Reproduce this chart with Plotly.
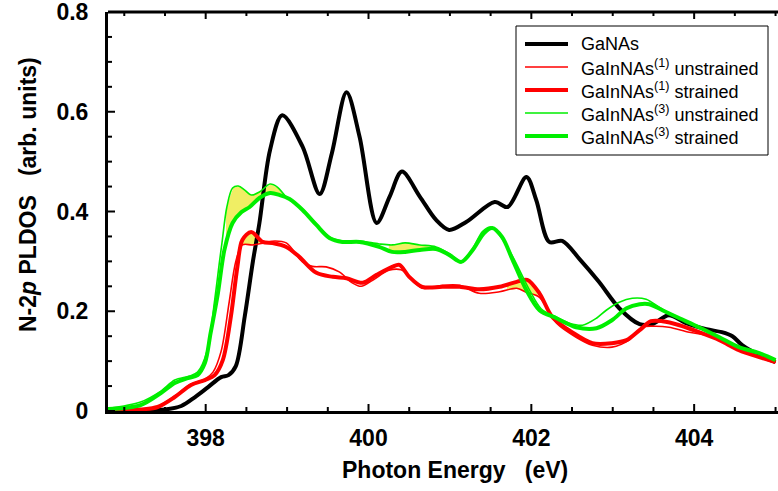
import numpy as np
import plotly.graph_objects as go

# ---------------- data ----------------
black_x = [396.8, 397.2, 397.5, 397.7, 397.87, 398.03, 398.19, 398.28, 398.37, 398.48, 398.58,
           398.66, 398.79, 398.94, 399.19, 399.40, 399.55, 399.73, 399.89, 400.10, 400.26,
           400.41, 400.63, 400.83, 400.99, 401.20, 401.55, 401.71, 401.94, 402.06, 402.22,
           402.38, 402.59, 402.83, 403.08, 403.33, 403.48, 403.69, 403.90, 404.15, 404.34,
           404.47, 404.59, 404.80, 405.0]
black_y = [0.0, 0.001, 0.003, 0.01, 0.028, 0.048, 0.068, 0.072, 0.09, 0.19, 0.30,
           0.377, 0.523, 0.593, 0.53, 0.435, 0.517, 0.639, 0.55, 0.377, 0.43,
           0.48, 0.43, 0.383, 0.363, 0.379, 0.419, 0.409, 0.469, 0.423, 0.339,
           0.341, 0.305, 0.259, 0.206, 0.174, 0.174, 0.192, 0.176, 0.164, 0.158,
           0.150, 0.132, 0.112, 0.098]

red_s_x = [396.8, 397.2, 397.41, 397.62, 397.82, 397.99, 398.11, 398.21, 398.31, 398.39, 398.45,
           398.56, 398.70, 398.82, 398.99, 399.15, 399.36, 399.56, 399.73, 399.93, 400.10,
           400.29, 400.38, 400.50, 400.66, 400.91, 401.12, 401.36, 401.61, 401.82, 401.95,
           402.10, 402.26, 402.50, 402.75, 402.99, 403.17, 403.33, 403.47, 403.61, 403.82,
           404.06, 404.31, 404.55, 404.80, 405.0]
red_s_y = [0.0, 0.003, 0.008, 0.028, 0.052, 0.062, 0.072, 0.102, 0.19, 0.29, 0.343,
           0.359, 0.339, 0.337, 0.329, 0.309, 0.277, 0.269, 0.266, 0.257, 0.273,
           0.289, 0.293, 0.269, 0.249, 0.249, 0.249, 0.244, 0.249, 0.259, 0.263,
           0.236, 0.188, 0.158, 0.136, 0.136, 0.142, 0.162, 0.18, 0.18, 0.172,
           0.158, 0.142, 0.122, 0.108, 0.098]

red_u_x = [396.8, 397.2, 397.41, 397.62, 397.82, 397.99, 398.09, 398.19, 398.29, 398.37, 398.45,
           398.58, 398.72, 398.85, 398.99, 399.19, 399.31, 399.48, 399.64, 399.80, 399.91,
           400.05, 400.25, 400.40, 400.66, 400.91, 401.12, 401.36, 401.61, 401.82, 401.94,
           402.10, 402.31, 402.55, 402.75, 402.99, 403.20, 403.36, 403.53, 403.69, 403.94,
           404.15, 404.31, 404.55, 404.80, 405.0]
red_u_y = [0.0, 0.003, 0.009, 0.03, 0.054, 0.064, 0.078, 0.12, 0.22, 0.30, 0.333,
           0.333, 0.337, 0.341, 0.337, 0.299, 0.29, 0.289, 0.279, 0.257, 0.25,
           0.262, 0.282, 0.283, 0.246, 0.252, 0.252, 0.236, 0.239, 0.246, 0.238,
           0.228, 0.176, 0.148, 0.132, 0.128, 0.142, 0.168, 0.17, 0.168, 0.158,
           0.152, 0.142, 0.122, 0.108, 0.098]

green_s_x = [396.8, 397.2, 397.45, 397.62, 397.78, 397.90, 397.99, 398.06, 398.15, 398.23,
             398.33, 398.44, 398.54, 398.66, 398.79, 398.91, 399.03, 399.19, 399.36, 399.52,
             399.68, 399.89, 400.13, 400.29, 400.45, 400.63, 400.83, 400.99, 401.14, 401.28,
             401.42, 401.52, 401.64, 401.77, 401.94, 402.10, 402.31, 402.55, 402.80, 402.99,
             403.17, 403.33, 403.45, 403.61, 403.82, 404.06, 404.31, 404.55, 404.80, 405.0]
green_s_y = [0.004, 0.012, 0.036, 0.056, 0.066, 0.072, 0.096, 0.156, 0.236, 0.323,
             0.377, 0.399, 0.409, 0.427, 0.437, 0.433, 0.425, 0.403, 0.373, 0.347,
             0.339, 0.339, 0.329, 0.319, 0.319, 0.323, 0.325, 0.313, 0.299, 0.323,
             0.357, 0.367, 0.349, 0.303, 0.242, 0.202, 0.186, 0.168, 0.166, 0.182,
             0.206, 0.214, 0.214, 0.202, 0.186, 0.168, 0.148, 0.128, 0.116, 0.102]

green_u_x = [396.8, 397.2, 397.45, 397.62, 397.80, 397.90, 398.02, 398.11, 398.17, 398.20,
             398.26, 398.33, 398.40, 398.48, 398.56, 398.66, 398.79, 398.88, 398.99, 399.19,
             399.36, 399.52, 399.68, 399.89, 400.13, 400.29, 400.45, 400.63, 400.83, 400.99,
             401.14, 401.28, 401.40, 401.50, 401.62, 401.77, 401.97, 402.12, 402.31, 402.47,
             402.63, 402.80, 402.92, 403.08, 403.24, 403.41, 403.57, 403.78, 404.06, 404.31,
             404.55, 404.80, 405.0]
green_u_y = [0.005, 0.018, 0.04, 0.062, 0.070, 0.078, 0.122, 0.222, 0.30, 0.337,
             0.409, 0.447, 0.451, 0.443, 0.433, 0.439, 0.455, 0.449, 0.429, 0.405,
             0.375, 0.349, 0.341, 0.341, 0.335, 0.333, 0.337, 0.333, 0.329, 0.316,
             0.30, 0.326, 0.36, 0.369, 0.35, 0.31, 0.245, 0.205, 0.188, 0.176,
             0.172, 0.186, 0.202, 0.218, 0.226, 0.224, 0.208, 0.188, 0.168, 0.148,
             0.128, 0.116, 0.102]

# shaded (yellow) difference regions: (lo, hi) energy ranges
green_fill_ranges = [(398.25, 398.95), (400.25, 401.0)]
red_fill_ranges = [(398.45, 398.78), (401.70, 402.08)]

x_ticks = [398, 400, 402, 404]
x_tick_text = ["398", "400", "402", "404"]
y_ticks = [0, 0.2, 0.4, 0.6, 0.8]
y_tick_text = ["0", "0.2", "0.4", "0.6", "0.8"]

names = ["GaNAs",
         "GaInNAs<sup>(1)</sup> unstrained",
         "GaInNAs<sup>(1)</sup> strained",
         "GaInNAs<sup>(3)</sup> unstrained",
         "GaInNAs<sup>(3)</sup> strained"]

RED = "#ff0000"
GREEN = "#00ee00"
YELLOW = "rgb(240,238,100)"
FONT = "Liberation Sans"

X_RANGE = [396.8, 405.03]
Y_RANGE = [0, 0.8]
X_MINOR = 0.5
Y_MINOR = 0.05

W, H = 778, 491
ML, MR, MT, MB = 108, 0, 12, 80
PW, PH = W - ML - MR, H - MT - MB


def px(xp):
    return (xp - ML) / PW


def py(yp):
    return (H - MB - yp) / PH


fig = go.Figure()


def add_fill(xa, ya, xb, yb, lo, hi):
    grid = np.linspace(lo, hi, 80)
    a = np.interp(grid, xa, ya)
    b = np.interp(grid, xb, yb)
    fig.add_trace(go.Scatter(
        x=np.concatenate([grid, grid[::-1]]),
        y=np.concatenate([a, b[::-1]]),
        fill="toself", fillcolor=YELLOW, line=dict(width=0),
        mode="lines", hoverinfo="skip", showlegend=False))


for lo, hi in green_fill_ranges:
    add_fill(green_u_x, green_u_y, green_s_x, green_s_y, lo, hi)
for lo, hi in red_fill_ranges:
    add_fill(red_u_x, red_u_y, red_s_x, red_s_y, lo, hi)

sm = 0.9
series = [
    (black_x, black_y, "black", 4),
    (red_u_x, red_u_y, RED, 1.6),
    (red_s_x, red_s_y, RED, 4),
    (green_u_x, green_u_y, GREEN, 1.6),
    (green_s_x, green_s_y, GREEN, 4),
]
for (xs, ys, col, wid), nm in zip(series, names):
    fig.add_trace(go.Scatter(x=xs, y=ys, mode="lines", name=nm, showlegend=False,
                             line=dict(color=col, width=wid, shape="spline", smoothing=sm)))

# frame decorations: top line plus tick marks (axis furniture derived from the ranges)
shapes = [dict(type="line", xref="paper", yref="paper", x0=0, x1=1, y0=1, y1=1,
               line=dict(color="black", width=3))]
xt = np.arange(np.ceil(X_RANGE[0] / X_MINOR) * X_MINOR, X_RANGE[1] + 1e-9, X_MINOR)
for v in xt:
    major = abs(v / 2 - round(v / 2)) < 1e-9
    L = 7 if major else 4
    for y0, sgn in ((0, 1), (1, -1)):
        shapes.append(dict(type="line", xref="x", yref="paper", x0=v, x1=v,
                           y0=y0, y1=y0 + sgn * L / PH,
                           line=dict(color="black", width=2)))
yt = np.arange(Y_RANGE[0], Y_RANGE[1] + 1e-9, Y_MINOR)
for v in yt:
    major = abs(v / 0.2 - round(v / 0.2)) < 1e-6
    L = 7 if major else 4
    shapes.append(dict(type="line", xref="paper", yref="y", x0=0, x1=L / PW,
                       y0=v, y1=v, line=dict(color="black", width=2)))

# hand-drawn legend (box, sample lines, labels)
shapes.append(dict(type="rect", xref="paper", yref="paper",
                   x0=px(516), x1=px(768), y0=py(155), y1=py(26),
                   line=dict(color="black", width=1), fillcolor="white"))
annotations = []
row_y = [44, 67, 90, 113, 136]
for (xs, ys, col, wid), nm, ry in zip(series, names, row_y):
    shapes.append(dict(type="line", xref="paper", yref="paper",
                       x0=px(525), x1=px(568), y0=py(ry), y1=py(ry),
                       line=dict(color=col, width=wid)))
    annotations.append(dict(text=nm, xref="paper", yref="paper",
                            x=px(579), y=py(ry), xanchor="left", yanchor="middle",
                            showarrow=False, font=dict(size=18, family=FONT, color="black")))

annotations += [
    dict(text="<b>Photon Energy   (eV)</b>", xref="paper", yref="paper",
         x=0.518, y=-0.11, xanchor="center", yanchor="top", showarrow=False,
         font=dict(size=23, family=FONT, color="black")),
    dict(text="<b>N-2<i>p</i> PLDOS   (arb. units)</b>", xref="paper", yref="paper",
         x=px(28), y=py(195), xanchor="center", yanchor="middle", showarrow=False,
         textangle=-90, font=dict(size=23, family=FONT, color="black")),
]

fig.update_layout(
    width=W, height=H,
    margin=dict(l=ML, r=MR, t=MT, b=MB),
    plot_bgcolor="white",
    showlegend=False,
    xaxis=dict(range=X_RANGE, tickvals=x_ticks,
               ticktext=["<b>%s</b>" % t for t in x_tick_text],
               ticks="", showline=True, linewidth=3, linecolor="black",
               showgrid=False, zeroline=False, ticklabeloverflow="allow",
               ticklabelstandoff=4,
               tickfont=dict(size=23, family=FONT, color="black")),
    yaxis=dict(range=Y_RANGE, tickvals=y_ticks,
               ticktext=["<b>%s</b>" % t for t in y_tick_text],
               ticks="", showline=True, linewidth=3, linecolor="black",
               showgrid=False, zeroline=False, ticklabeloverflow="allow",
               ticklabelstandoff=12,
               tickfont=dict(size=23, family=FONT, color="black")),
    shapes=shapes,
    annotations=annotations,
)

fig.write_html("out.html")
